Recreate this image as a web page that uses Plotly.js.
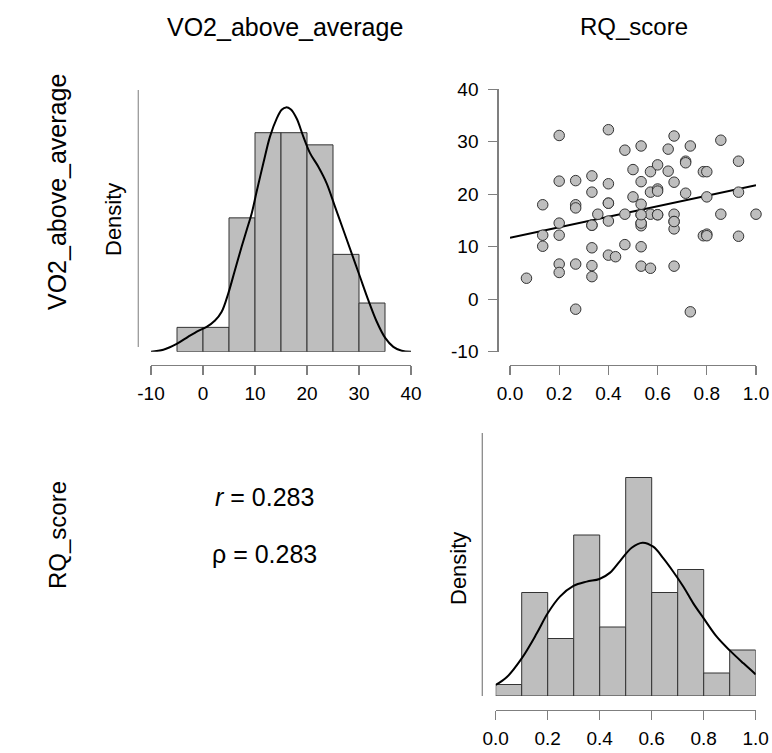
<!DOCTYPE html>
<html>
<head>
<meta charset="utf-8">
<script src="https://cdn.plot.ly/plotly-3.0.1.min.js"></script>
<style>html,body{margin:0;padding:0;background:#fff;}#chart{width:772px;height:753px;}</style>
</head>
<body>
<div id="chart"></div>
<script>
// ---- data ----
const rqScore = [0.067,0.133,0.133,0.133,0.2,0.2,0.2,0.2,0.2,0.2,
  0.267,0.267,0.267,0.267,0.267,0.333,0.333,0.333,0.333,0.333,
  0.333,0.357,0.4,0.4,0.4,0.4,0.4,0.429,0.467,0.467,
  0.467,0.5,0.5,0.533,0.533,0.533,0.533,0.533,0.533,0.533,
  0.533,0.571,0.571,0.571,0.571,0.6,0.6,0.6,0.6,0.643,
  0.643,0.667,0.667,0.667,0.667,0.667,0.667,0.714,0.714,0.714,
  0.733,0.733,0.786,0.8,0.786,0.8,0.8,0.857,0.857,0.929,
  0.929,0.929,1.0,0.8,0.333,0.4,0.533,0.533,0.6,0.667];
const vo2AboveAverage = [4.0,18.0,12.2,10.1,31.2,22.5,14.5,12.2,6.7,5.1,
  22.6,18.0,17.4,6.7,-1.9,23.5,20.4,14.1,9.8,6.4,
  4.3,16.2,32.3,22.0,18.3,14.9,8.4,8.1,28.4,16.2,
  10.4,24.7,19.5,29.2,22.4,18.1,16.1,14.5,14.0,10.0,
  6.3,24.3,20.4,16.2,5.9,25.6,21.0,20.6,16.1,28.6,
  24.4,31.1,22.3,16.2,14.8,13.4,6.3,26.3,26.0,20.2,
  29.2,-2.4,24.3,24.3,12.1,12.4,19.5,30.3,16.2,26.3,
  20.4,12.0,16.2,12.1,14.1,18.3,14.5,16.1,16.1,14.8];

// regression line (read)
const fitX = [0, 1];
const fitY = [11.7, 21.7];

// histogram of VO2_above_average (bin edges, counts)
const vo2Edges = [-5,0,5,10,15,20,25,30,35];
const vo2Counts = [2,2,11,18,18,17,8,4];
// density curve of VO2_above_average (read)
const vo2KdeX = [-10,-7.63,-5.06,-2.82,-0.9,0.7,2.31,3.59,4.87,6.15,7.44,8.4,9.36,10.32,11.6,12.88,14.17,15.13,15.96,16.86,18.01,19.29,20.58,22.18,23.78,25.38,26.99,28.59,30.19,31.79,33.4,35,36.6,38.21,40];
const vo2KdeY = [0,0.0004,0.0016,0.0031,0.0043,0.0051,0.0064,0.0082,0.0120,0.0168,0.0216,0.0250,0.0284,0.0329,0.0387,0.0442,0.0479,0.0497,0.0502,0.0498,0.0479,0.0442,0.0408,0.0380,0.0346,0.0298,0.0250,0.0202,0.0154,0.0106,0.0062,0.0029,0.0010,0.0002,0];

// histogram of RQ_score
const rqEdges = [0,0.1,0.2,0.3,0.4,0.5,0.6,0.7,0.8,0.9,1.0];
const rqCounts = [1,9,5,14,6,19,9,11,2,4];
const rqKdeX = [0,0.042,0.1,0.158,0.2,0.247,0.299,0.35,0.399,0.44,0.478,0.523,0.565,0.606,0.645,0.683,0.722,0.76,0.8,0.85,0.901,0.953,1.0];
const rqKdeY = [0.120,0.203,0.409,0.681,0.899,1.080,1.196,1.243,1.272,1.341,1.467,1.612,1.667,1.623,1.496,1.351,1.188,1.007,0.844,0.645,0.493,0.355,0.235];

const xTicksVO2 = [-10,0,10,20,30,40];
const xTickTextVO2 = ["-10","0","10","20","30","40"];
const xTicksRQ = [0,0.2,0.4,0.6,0.8,1.0];
const xTickTextRQ = ["0.0","0.2","0.4","0.6","0.8","1.0"];
const yTicksVO2 = [-10,0,10,20,30,40];
const yTickTextVO2 = ["-10","0","10","20","30","40"];

const statR = "0.283";
const statRho = "0.283";
const varNames = ["VO2_above_average","RQ_score"];

// ---- helpers ----
const W = 772, H = 753;
const px = v => v / W;
const py = v => 1 - v / H;
function histBars(edges, counts){
  const xs=[], ws=[], ys=[];
  const n = counts.reduce((a,b)=>a+b,0);
  for(let i=0;i<counts.length;i++){
    const w = edges[i+1]-edges[i];
    xs.push((edges[i]+edges[i+1])/2); ws.push(w); ys.push(counts[i]/(n*w));
  }
  return {xs, ws, ys};
}
const hv = histBars(vo2Edges, vo2Counts);
const hr = histBars(rqEdges, rqCounts);

const FONT = "Liberation Sans, Arial, Helvetica, sans-serif";
const axisCol = "#7f7f7f";
const barFill = "#bebebe";
const edgeCol = "#333333";

const traces = [
  {type:"bar", x:hv.xs, y:hv.ys, width:hv.ws, xaxis:"x", yaxis:"y",
   marker:{color:barFill, line:{color:edgeCol, width:1}}, cliponaxis:false, hoverinfo:"skip"},
  {type:"scatter", mode:"lines", x:vo2KdeX, y:vo2KdeY, xaxis:"x", yaxis:"y",
   line:{color:"#000", width:2, shape:"spline"}, cliponaxis:false, hoverinfo:"skip"},
  {type:"scatter", mode:"lines", x:fitX, y:fitY, xaxis:"x2", yaxis:"y2",
   line:{color:"#000", width:2}, cliponaxis:false, hoverinfo:"skip"},
  {type:"scatter", mode:"markers", x:rqScore, y:vo2AboveAverage, xaxis:"x2", yaxis:"y2",
   marker:{color:barFill, size:10.5, line:{color:edgeCol, width:1}}, cliponaxis:false, hoverinfo:"skip"},
  {type:"bar", x:hr.xs, y:hr.ys, width:hr.ws, xaxis:"x3", yaxis:"y3",
   marker:{color:barFill, line:{color:edgeCol, width:1}}, cliponaxis:false, hoverinfo:"skip"},
  {type:"scatter", mode:"lines", x:rqKdeX, y:rqKdeY, xaxis:"x3", yaxis:"y3",
   line:{color:"#000", width:2, shape:"spline"}, cliponaxis:false, hoverinfo:"skip"}
];

const tickFont = {family:FONT, size:19, color:"#000"};
function xAx(domainPx, range, ticks, labels, posPx){
  return {domain:[px(domainPx[0]), px(domainPx[1])], range:range, anchor:"free", position:py(posPx),
    tickmode:"array", tickvals:ticks, ticktext:labels, ticks:"outside", ticklen:9, tickwidth:1.3,
    tickcolor:axisCol, showline:true, linecolor:axisCol, linewidth:1.3, showgrid:false, zeroline:false,
    tickfont:tickFont, ticklabelstandoff:2, fixedrange:true};
}
const layout = {
  width:W, height:H, margin:{l:0,r:0,t:0,b:0}, showlegend:false,
  paper_bgcolor:"#fff", plot_bgcolor:"rgba(0,0,0,0)", bargap:0,
  font:{family:FONT, color:"#000"},
  xaxis: xAx([151,411], [-10,40], xTicksVO2, xTickTextVO2, 365),
  yaxis: {domain:[py(351.7), py(90)], range:[0, (351.7-90)/4867], visible:false, fixedrange:true},
  xaxis2: xAx([510,756], [0,1], xTicksRQ, xTickTextRQ, 365),
  yaxis2: {domain:[py(351.7), py(89.3)], range:[-10,40], anchor:"free", position:px(497.3),
    tickmode:"array", tickvals:yTicksVO2, ticktext:yTickTextVO2, ticks:"outside", ticklen:9, tickwidth:1.3, tickcolor:axisCol,
    showline:true, linecolor:axisCol, linewidth:1.3, showgrid:false, zeroline:false, tickfont:tickFont,
    ticklabelstandoff:6, fixedrange:true},
  xaxis3: xAx([495.7,755.7], [0,1], xTicksRQ, xTickTextRQ, 710),
  yaxis3: {domain:[py(696), py(433)], range:[0, (696-433)/92], visible:false, fixedrange:true},
  shapes:[
    {type:"line", xref:"paper", yref:"paper", x0:px(138.3), x1:px(138.3), y0:py(347), y1:py(90),
     line:{color:"#9a9a9a", width:1.3}},
    {type:"line", xref:"paper", yref:"paper", x0:px(482.3), x1:px(482.3), y0:py(696), y1:py(433),
     line:{color:"#8a8a8a", width:1.3}}
  ],
  annotations:[
    {text:varNames[0], x:px(285), y:py(27), xref:"paper", yref:"paper", showarrow:false,
     xanchor:"center", yanchor:"middle", font:{size:25, family:FONT, color:"#000"}},
    {text:varNames[1], x:px(634), y:py(27), xref:"paper", yref:"paper", showarrow:false,
     xanchor:"center", yanchor:"middle", font:{size:24, family:FONT, color:"#000"}},
    {text:varNames[0], x:px(57), y:py(192), xref:"paper", yref:"paper", showarrow:false, textangle:-90,
     xanchor:"center", yanchor:"middle", font:{size:25, family:FONT, color:"#000"}},
    {text:varNames[1], x:px(57), y:py(535), xref:"paper", yref:"paper", showarrow:false, textangle:-90,
     xanchor:"center", yanchor:"middle", font:{size:24, family:FONT, color:"#000"}},
    {text:"Density", x:px(114), y:py(220), xref:"paper", yref:"paper", showarrow:false, textangle:-90,
     xanchor:"center", yanchor:"middle", font:{size:22, family:FONT, color:"#000"}},
    {text:"Density", x:px(458), y:py(569), xref:"paper", yref:"paper", showarrow:false, textangle:-90,
     xanchor:"center", yanchor:"middle", font:{size:22, family:FONT, color:"#000"}},
    {text:"<i>r</i> = " + statR, x:px(264), y:py(497), xref:"paper", yref:"paper", showarrow:false,
     xanchor:"center", yanchor:"middle", font:{size:25, family:FONT, color:"#000"}},
    {text:"\u03C1 = " + statRho, x:px(264), y:py(554), xref:"paper", yref:"paper", showarrow:false,
     xanchor:"center", yanchor:"middle", font:{size:25, family:FONT, color:"#000"}}
  ]
};
Plotly.newPlot("chart", traces, layout, {displayModeBar:false, staticPlot:true});
</script>
</body>
</html>
